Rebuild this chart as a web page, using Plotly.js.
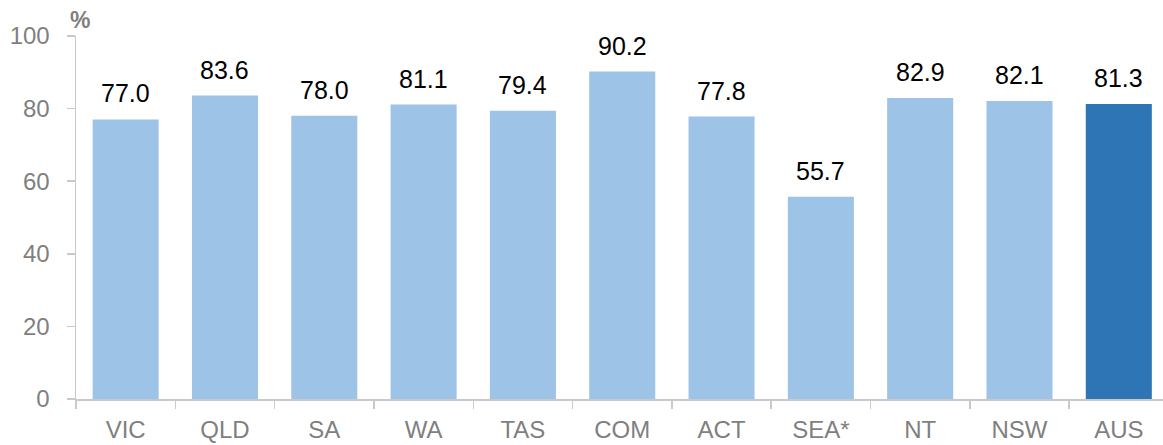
<!DOCTYPE html>
<html>
<head>
<meta charset="utf-8">
<script src="https://cdn.plot.ly/plotly-3.0.1.min.js"></script>
<style>html,body{margin:0;padding:0;background:#fff;overflow:hidden}#chart{width:1163px;height:445px}</style>
</head>
<body>
<div id="chart"></div>
<script>
const categories = ["VIC","QLD","SA","WA","TAS","COM","ACT","SEA*","NT","NSW","AUS"];
const values = [77.0, 83.6, 78.0, 81.1, 79.4, 90.2, 77.8, 55.7, 82.9, 82.1, 81.3];
const yTicks = [0, 20, 40, 60, 80, 100];
const unitLabel = "%";

const light = "#9DC3E6", dark = "#2E75B6";
const colors = categories.map(c => c === "AUS" ? dark : light);

const trace = {
  type: "bar",
  x: categories,
  y: values,
  marker: {color: colors},
  hoverinfo: "x+y"
};

const annotations = categories.map((c, i) => ({
  x: c, y: values[i], xref: "x", yref: "y",
  text: values[i].toFixed(1),
  showarrow: false, yanchor: "bottom", yshift: 10,
  font: {family: "Liberation Sans, Arial, sans-serif", size: 25, color: "#000"}
}));
annotations.push({
  x: (79.5 - 76) / (1163 - 76), y: (445 - 46 - 20) / (445 - 46 - 36),
  xref: "paper", yref: "paper", text: "<b>" + unitLabel + "</b>",
  showarrow: false, xanchor: "center", yanchor: "middle",
  font: {family: "Liberation Sans, Arial, sans-serif", size: 23, color: "#7f7f7f"}
});

const layout = {
  width: 1163, height: 445,
  margin: {l: 76, r: 0, t: 36, b: 46, pad: 0},
  paper_bgcolor: "#fff", plot_bgcolor: "#fff",
  bargap: 0.335,
  showlegend: false,
  font: {family: "Liberation Sans, Arial, sans-serif", color: "#7f7f7f"},
  xaxis: {
    type: "category",
    range: [-0.5, 10.445],
    showline: true, linecolor: "#c9c9c9", linewidth: 1.5,
    ticks: "outside", tickson: "boundaries", ticklen: 8, tickcolor: "#c9c9c9", tickwidth: 1.5,
    tickfont: {size: 24, color: "#7f7f7f"},
    ticklabelstandoff: 9,
    showgrid: false, zeroline: false, fixedrange: true
  },
  yaxis: {
    range: [0, 100],
    tickvals: yTicks,
    showline: true, linecolor: "#c9c9c9", linewidth: 1.5,
    ticks: "outside", ticklen: 8, tickcolor: "#c9c9c9", tickwidth: 1.5,
    tickfont: {size: 24, color: "#7f7f7f"},
    ticklabelstandoff: 12,
    showgrid: false, zeroline: false, fixedrange: true
  },
  annotations: annotations
};

Plotly.newPlot("chart", [trace], layout, {displayModeBar: false, staticPlot: true});
</script>
</body>
</html>
